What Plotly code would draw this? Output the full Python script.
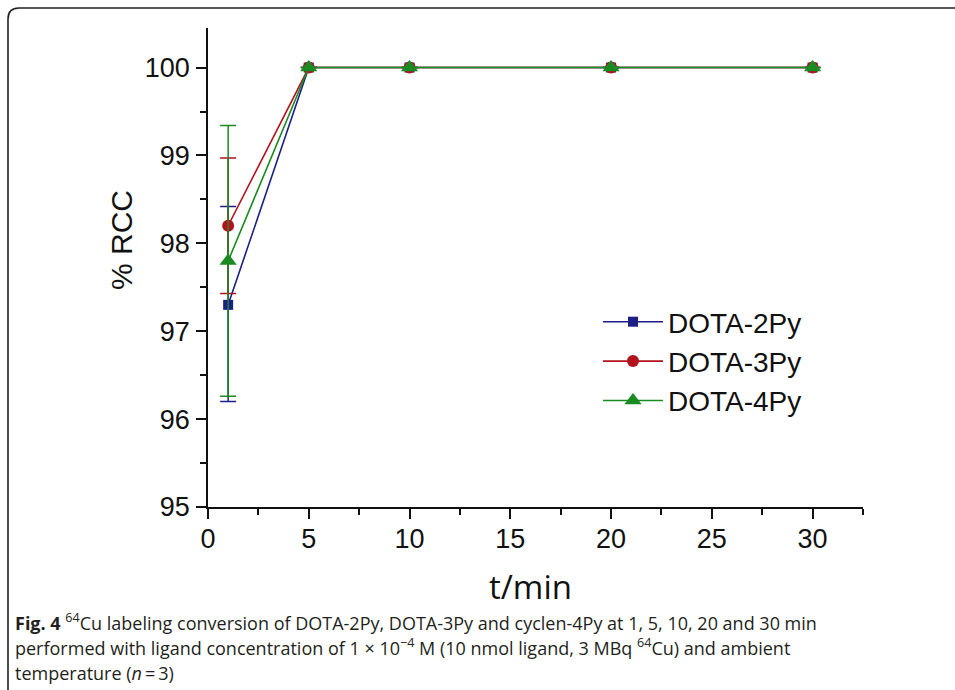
import plotly.graph_objects as go

times = [1, 5, 10, 20, 30]
series_names = ["DOTA-2Py", "DOTA-3Py", "DOTA-4Py"]
rcc_2py = [97.3, 100, 100, 100, 100]
rcc_3py = [98.2, 100, 100, 100, 100]
rcc_4py = [97.8, 100, 100, 100, 100]
err_2py_plus = [1.12, 0, 0, 0, 0]
err_2py_minus = [1.10, 0, 0, 0, 0]
err_3py_plus = [0.77, 0, 0, 0, 0]
err_3py_minus = [0.77, 0, 0, 0, 0]
err_4py_plus = [1.54, 0, 0, 0, 0]
err_4py_minus = [1.54, 0, 0, 0, 0]

x_title = "t/min"
y_title = "% RCC"

colors = ["#1b1f86", "#b3121c", "#1a8a22"]
symbols = ["square", "circle", "triangle-up"]
msizes = [10, 12, 15]

fig = go.Figure()
data = [
    (rcc_2py, err_2py_plus, err_2py_minus),
    (rcc_3py, err_3py_plus, err_3py_minus),
    (rcc_4py, err_4py_plus, err_4py_minus),
]
for i, (vals, ep, em) in enumerate(data):
    fig.add_trace(go.Scatter(
        x=times, y=vals, name=series_names[i], mode="lines+markers",
        line=dict(color=colors[i], width=1.6),
        marker=dict(symbol=symbols[i], size=msizes[i], color=colors[i]),
        error_y=dict(type="data", symmetric=False, array=ep, arrayminus=em,
                     color=colors[i], thickness=1.5, width=8),
    ))

W, H = 955, 690
L, R, T, B = 208, 863, 28, 507
pw, ph = R - L, B - T

def px(x):
    return (x - L) / pw

def py(y):
    return (B - y) / ph

tick_font = dict(family="Liberation Sans, Arial, sans-serif", size=27, color="#111")
fig.update_layout(
    width=W, height=H,
    margin=dict(l=L, r=W - R, t=T, b=H - B),
    paper_bgcolor="white", plot_bgcolor="white",
    font=dict(family="Liberation Sans, Arial, sans-serif", color="#111"),
    showlegend=True,
    legend=dict(x=px(598), y=py(297), xanchor="left", yanchor="top",
                font=dict(size=28, color="#111"), bgcolor="rgba(0,0,0,0)",
                tracegroupgap=0, itemwidth=60),
    xaxis=dict(range=[0, 32.5], dtick=5, tick0=0, ticks="outside", ticklen=10,
               tickwidth=1.5, tickcolor="#111", showline=True, linecolor="#111",
               linewidth=1.5, showgrid=False, zeroline=False, ticklabelstandoff=-3,
               tickfont=tick_font, minor=dict(dtick=2.5, ticks="outside", ticklen=6,
                                              tickwidth=1.5, tickcolor="#111")),
    yaxis=dict(range=[95, 100.45], dtick=1, tick0=95, ticks="outside", ticklen=10,
               tickwidth=1.5, tickcolor="#111", showline=True, linecolor="#111",
               linewidth=1.5, showgrid=False, zeroline=False, ticklabelstandoff=1,
               tickfont=tick_font, minor=dict(dtick=0.5, ticks="outside", ticklen=6,
                                              tickwidth=1.5, tickcolor="#111")),
)

# axis titles
fig.add_annotation(text=x_title, xref="paper", yref="paper", x=px(530), y=py(586),
                   xanchor="center", yanchor="middle", showarrow=False,
                   font=dict(family="Open Sans, sans-serif", size=33, color="#111"))
fig.add_annotation(text=y_title, xref="paper", yref="paper", x=px(121), y=py(240),
                   xanchor="center", yanchor="middle", showarrow=False, textangle=-90,
                   font=dict(family="Liberation Sans, Arial, sans-serif", size=30, color="#111"))

# figure frame: left and top edges with a rounded top-left corner
x0, x1, y0, y1, r = px(8), px(960), py(8), py(720), 11
rx, ry = r / pw, r / ph
path = f"M {x0} {y1} L {x0} {y0 - ry} Q {x0} {y0} {x0 + rx} {y0} L {x1} {y0}"
fig.add_shape(type="path", path=path, xref="paper", yref="paper",
              line=dict(color="#222", width=1.6))

cap_font = dict(family="Open Sans, sans-serif", size=18, color="#231f20")
caption_lines = [
    "<b>Fig. 4</b> <sup>64</sup>Cu labeling conversion of DOTA-2Py, DOTA-3Py and cyclen-4Py at 1, 5, 10, 20 and 30 min",
    "performed with ligand concentration of 1 × 10<sup>−4</sup> M (10 nmol ligand, 3 MBq <sup>64</sup>Cu) and ambient",
    "temperature (<i>n</i>\u2009=\u20093)",
]
for txt, yy in zip(caption_lines, [622, 647, 673]):
    fig.add_annotation(text=txt, xref="paper", yref="paper", x=px(13), y=py(yy),
                       xanchor="left", yanchor="middle", showarrow=False, font=cap_font)

fig.write_html("out.html")
